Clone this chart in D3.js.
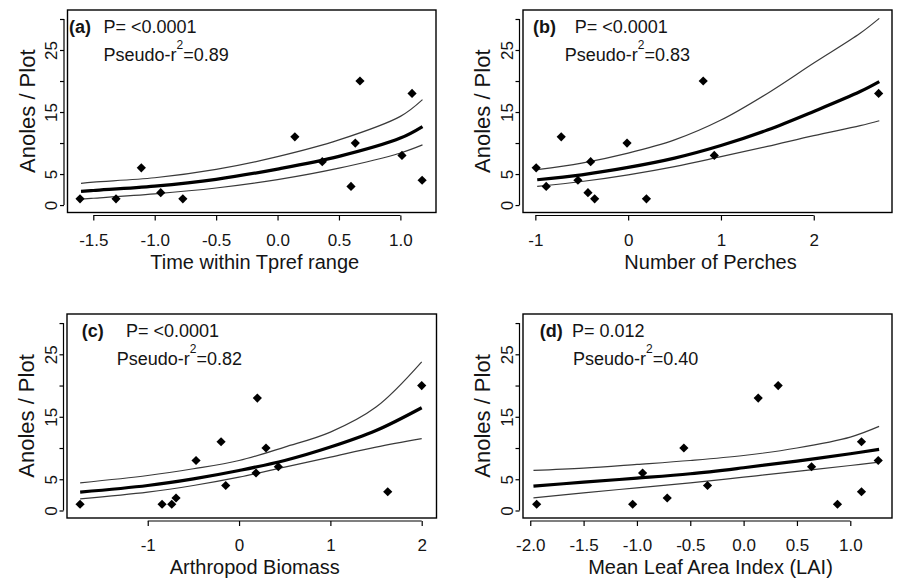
<!DOCTYPE html>
<html><head><meta charset="utf-8">
<script src="https://cdn.jsdelivr.net/npm/d3@7"></script>
<style>
body{margin:0;background:#fff}
svg{display:block}
text{font-family:"Liberation Sans",Arial,sans-serif;fill:#141414}
</style>
</head><body>
<svg id="chart" width="898" height="583"></svg>
<script>
// ---------- data ----------
const panelTags = ["(a)","(b)","(c)","(d)"];
const xTitles = ["Time within Tpref range","Number of Perches","Arthropod Biomass","Mean Leaf Area Index (LAI)"];
const yTitle = "Anoles / Plot";
const pTexts = ["P= <0.0001","P= <0.0001","P= <0.0001","P= 0.012"];
const r2Texts = ["0.89","0.83","0.82","0.40"];

const yTicks = [0,5,10,15,20,25,30];
const yTickLabels = ["0","5","","15","","25",""];

const aXTicks = [-1.5,-1,-0.5,0,0.5,1];
const aXTickLabels = ["-1.5","-1.0","-0.5","0.0","0.5","1.0"];
const bXTicks = [-1,0,1,2];
const bXTickLabels = ["-1","0","1","2"];
const cXTicks = [-1,0,1,2];
const cXTickLabels = ["-1","0","1","2"];
const dXTicks = [-2,-1.5,-1,-0.5,0,0.5,1];
const dXTickLabels = ["-2.0","-1.5","-1.0","-0.5","0.0","0.5","1.0"];

// observed points
const aX = [-1.608,-1.315,-1.109,-0.951,-0.771,0.141,0.364,0.598,0.633,0.671,1.013,1.095,1.177];
const aY = [1,1,6,2,1,11,7,3,10,20,8,18,4];
const bX = [-0.991,-0.883,-0.721,-0.541,-0.433,-0.404,-0.361,-0.012,0.197,0.809,0.928,2.699];
const bY = [6,3,11,4,2,7,1,10,1,20,8,18];
const cX = [-1.741,-0.843,-0.737,-0.69,-0.471,-0.197,-0.146,0.186,0.2,0.295,0.43,1.628,2.0];
const cY = [1,1,1,2,8,11,4,6,18,10,7,3,20];
const dX = [-1.94,-1.04,-0.947,-0.716,-0.56,-0.338,0.137,0.324,0.637,0.88,1.105,1.105,1.262];
const dY = [1,1,6,2,10,4,18,20,7,1,11,3,8];

// fitted curve and confidence band
const aCurveX = [-1.6,-1.5,-1.0,-0.5,0,0.5,1.0,1.18];
const aFit    = [2.2,2.35,3.05,4.15,5.8,7.85,10.8,12.66];
const aUpper  = [3.5,3.7,4.4,5.75,7.8,10.5,14.3,17.0];
const aLower  = [0.97,1.1,1.8,2.75,4.1,5.95,8.4,9.7];

const bCurveX = [-0.98,-0.5,0,0.5,1.0,1.5,2.0,2.5,2.706];
const bFit    = [4.08,4.88,6.07,7.57,9.6,12.1,15.1,18.3,19.9];
const bUpper  = [5.7,6.76,8.37,10.5,13.7,18.0,22.9,27.7,30.1];
const bLower  = [3.0,3.8,4.88,6.2,7.8,9.45,11.2,12.8,13.6];

const cCurveX = [-1.74,-1.0,-0.5,0,0.5,1.0,1.5,2.0];
const cFit    = [2.94,4.0,5.07,6.41,8.0,10.15,12.8,16.45];
const cUpper  = [4.43,5.6,6.68,8.0,10.15,12.55,16.56,23.8];
const cLower  = [1.87,2.94,4.0,5.34,6.94,8.55,10.15,11.5];

const dCurveX = [-1.97,-1.5,-1.0,-0.5,0,0.5,1.0,1.27];
const dFit    = [3.9,4.54,5.18,5.88,6.84,7.9,9.08,9.78];
const dUpper  = [6.41,6.78,7.37,8.0,8.8,10.0,11.75,13.46];
const dLower  = [2.03,2.83,3.63,4.43,5.34,6.25,7.2,7.75];

const xDomains = [[-1.71,1.29],[-1.133,2.843],[-1.884,2.162],[-2.068,1.391]];
const yDomain = [-1.2,31.45];

// ---------- layout ----------
const layout = [
  {left:67.5, top:10,  right:436,   bottom:212.5, tag:1.5,  p:36,   r:36},
  {left:523,  top:10,  right:892,   bottom:212.5, tag:10,   p:51.7, r:41.7},
  {left:67,   top:314, right:436.5, bottom:518,   tag:14.7, p:59,   r:49.7},
  {left:523,  top:314, right:892,   bottom:518,   tag:16.7, p:49,   r:50}
];

const panels = [
  {xs:aX, ys:aY, cx:aCurveX, fit:aFit, up:aUpper, lo:aLower, ticks:aXTicks, labels:aXTickLabels},
  {xs:bX, ys:bY, cx:bCurveX, fit:bFit, up:bUpper, lo:bLower, ticks:bXTicks, labels:bXTickLabels},
  {xs:cX, ys:cY, cx:cCurveX, fit:cFit, up:cUpper, lo:cLower, ticks:cXTicks, labels:cXTickLabels},
  {xs:dX, ys:dY, cx:dCurveX, fit:dFit, up:dUpper, lo:dLower, ticks:dXTicks, labels:dXTickLabels}
];

const svg = d3.select("#chart");

panels.forEach((p, i) => {
  const L = layout[i];
  const x = d3.scaleLinear().domain(xDomains[i]).range([L.left, L.right]);
  const y = d3.scaleLinear().domain(yDomain).range([L.bottom, L.top]);
  const g = svg.append("g");

  // confidence band lines and fit
  const line = d3.line().x(d => x(d[0])).y(d => y(d[1])).curve(d3.curveCatmullRom.alpha(0.5));
  [p.up, p.lo].forEach(arr => {
    g.append("path").attr("d", line(p.cx.map((v,k)=>[v,arr[k]])))
      .attr("fill","none").attr("stroke","#3a3a3a").attr("stroke-width",1.2);
  });
  g.append("path").attr("d", line(p.cx.map((v,k)=>[v,p.fit[k]])))
    .attr("fill","none").attr("stroke","#000").attr("stroke-width",3.2);

  // points (filled diamonds)
  const r = 4.6;
  g.selectAll("path.pt").data(p.xs.map((v,k)=>[v,p.ys[k]])).enter()
    .append("path").attr("class","pt")
    .attr("d", `M0,${-r}L${r},0L0,${r}L${-r},0Z`)
    .attr("transform", d => `translate(${x(d[0])},${y(d[1])})`)
    .attr("fill","#000");

  // box
  g.append("rect").attr("x",L.left).attr("y",L.top)
    .attr("width",L.right-L.left).attr("height",L.bottom-L.top)
    .attr("fill","none").attr("stroke","#000").attr("stroke-width",1.4);

  // x axis
  const xa = g.append("g").attr("transform",`translate(0,${L.bottom+3})`)
    .call(d3.axisBottom(x).tickValues(p.ticks).tickFormat((d,k)=>p.labels[k]).tickSize(5).tickPadding(13));
  xa.select(".domain").remove();
  xa.append("line").attr("x1",x(p.ticks[0])).attr("x2",x(p.ticks[p.ticks.length-1]))
    .attr("y1",0).attr("y2",0).attr("stroke","#000").attr("stroke-width",1.2);
  xa.selectAll(".tick line").attr("stroke","#000").attr("stroke-width",1.2);
  xa.selectAll(".tick text").attr("font-size",17).attr("fill","#141414")
    .attr("font-family","Liberation Sans, Arial, sans-serif");

  // y axis
  const ya = g.append("g").attr("transform",`translate(${L.left-3.5},0)`)
    .call(d3.axisLeft(y).tickValues(yTicks).tickFormat((d,k)=>yTickLabels[k]).tickSize(4).tickPadding(3));
  ya.select(".domain").remove();
  ya.append("line").attr("y1",y(yTicks[0])).attr("y2",y(yTicks[yTicks.length-1]))
    .attr("x1",0).attr("x2",0).attr("stroke","#000").attr("stroke-width",1.2);
  ya.selectAll(".tick line").attr("stroke","#000").attr("stroke-width",1.2);
  ya.selectAll(".tick text")
    .attr("font-size",17).attr("fill","#141414")
    .attr("font-family","Liberation Sans, Arial, sans-serif")
    .attr("x",null).attr("dy",null)
    .attr("text-anchor","middle")
    .attr("transform","translate(-7,0) rotate(-90)");

  // titles
  g.append("text").attr("x",(L.left+L.right)/2+3).attr("y",L.bottom+56)
    .attr("text-anchor","middle").attr("font-size",20).text(xTitles[i]);
  g.append("text")
    .attr("transform",`translate(${L.left-33},${(L.top+L.bottom)/2}) rotate(-90)`)
    .attr("text-anchor","middle").attr("font-size",22).text(yTitle);

  // annotations
  g.append("text").attr("x",L.left+L.tag).attr("y",L.top+23)
    .attr("font-size",18).attr("font-weight","bold").text(panelTags[i]);
  g.append("text").attr("x",L.left+L.p).attr("y",L.top+23)
    .attr("font-size",18).text(pTexts[i]);
  const t = g.append("text").attr("x",L.left+L.r).attr("y",L.top+51).attr("font-size",18);
  t.append("tspan").text("Pseudo-r");
  t.append("tspan").attr("font-size",12).attr("dy",-12).text("2");
  t.append("tspan").attr("dy",12).text("=" + r2Texts[i]);
});
</script>
</body></html>
